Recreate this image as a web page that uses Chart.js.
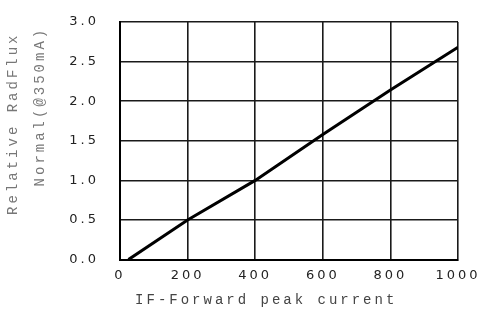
<!DOCTYPE html>
<html>
<head>
<meta charset="utf-8">
<script src="https://cdn.jsdelivr.net/npm/chart.js@4/dist/chart.umd.min.js"></script>
<style>
  html, body { margin: 0; padding: 0; background: #fff; }
  #wrap { width: 481px; height: 313px; }
</style>
</head>
<body>
<div id="wrap"><canvas id="fluxChart"></canvas></div>
<script>
// forward current (mA) and relative flux
const currents = [25, 200, 400, 600, 800, 1000];
const relFlux  = [0, 0.5, 1.0, 1.58, 2.14, 2.68];

const xTitle = 'IF-Forward peak current    ';
const yTitle = ['   Relative RadFlux', '      Normal(@350mA)'];

// the reference prints everything with wide letter spacing
const spacing = {
  id: 'spacing',
  beforeUpdate: c => { c.ctx.letterSpacing = '3px'; },
  beforeDraw:   c => { c.ctx.letterSpacing = '3px'; },
};

const tickFont  = { family: 'DejaVu Sans', size: 13 };
const gridStyle = { color: '#1a1a1a', lineWidth: 1.6, drawTicks: false };

new Chart(document.getElementById('fluxChart'), {
  type: 'scatter',
  data: {
    datasets: [{
      data: currents.map((x, i) => ({ x, y: relFlux[i] })),
      showLine: true,
      borderColor: '#000',
      borderWidth: 3,
      pointRadius: 0,
      tension: 0,
    }],
  },
  options: {
    responsive: true,
    maintainAspectRatio: false,
    animation: false,
    layout: { padding: { top: 22, right: 0, bottom: 1, left: 0 } },
    plugins: { legend: { display: false }, tooltip: { enabled: false } },
    scales: {
      x: {
        type: 'linear', min: 0, max: 1000,
        grid: gridStyle,
        border: { color: '#000', width: 2 },
        ticks: { stepSize: 200, color: '#222', font: tickFont, padding: 8, maxRotation: 0,
                 callback: v => String(v) },
        title: {
          display: true, text: xTitle, color: '#444',
          font: { family: 'Liberation Mono', size: 14, lineHeight: 1.2 },
          padding: { top: 1, bottom: 3 },
        },
        afterFit: s => { s.paddingRight = 23; },
      },
      y: {
        min: 0, max: 3,
        grid: gridStyle,
        border: { color: '#000', width: 2 },
        ticks: { stepSize: 0.5, color: '#222', font: tickFont, padding: 21,
                 callback: v => v.toFixed(1) },
        title: {
          display: true, text: yTitle, color: '#777',
          font: { family: 'Liberation Mono', size: 14, lineHeight: 1.9 },
          padding: { top: 0, bottom: 0 },
        },
        afterFit: s => { s.width = 120; s.paddingTop = 8; s.paddingBottom = 8; },
      },
    },
  },
  plugins: [spacing],
});
</script>
</body>
</html>
